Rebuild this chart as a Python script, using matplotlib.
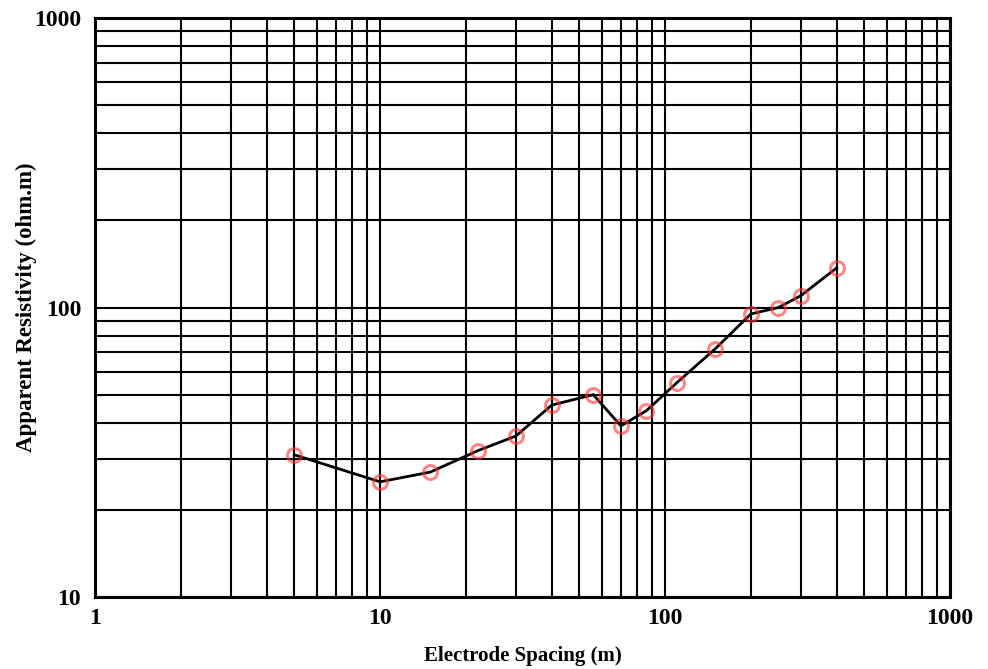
import matplotlib
matplotlib.use("Agg")
import matplotlib.pyplot as plt
from matplotlib.ticker import LogLocator, NullFormatter, FixedLocator, FixedFormatter

# Electrode spacing (m) and apparent resistivity (ohm.m)
spacing = [5, 10, 15, 22, 30, 40, 56, 70, 86, 110, 150, 200, 250, 300, 400]
resistivity = [31, 25, 27, 32, 36, 46, 50, 39, 44, 55, 72, 95, 100, 110, 137]

xticks = [1, 10, 100, 1000]
yticks = [10, 100, 1000]

plt.rcParams['font.family'] = ['Liberation Serif', 'DejaVu Serif']
plt.rcParams['font.weight'] = 'bold'

fig = plt.figure(figsize=(9.88, 6.69), dpi=100)
ax = fig.add_axes([0.0962, 0.1076, 0.8654, 0.8655])

ax.set_xscale('log')
ax.set_yscale('log')
ax.set_xlim(1, 1000)
ax.set_ylim(10, 1000)

ax.xaxis.set_major_locator(FixedLocator(xticks))
ax.xaxis.set_major_formatter(FixedFormatter([str(v) for v in xticks]))
ax.yaxis.set_major_locator(FixedLocator(yticks))
ax.yaxis.set_major_formatter(FixedFormatter([str(v) for v in yticks]))
ax.xaxis.set_minor_locator(LogLocator(base=10, subs=range(2, 10)))
ax.yaxis.set_minor_locator(LogLocator(base=10, subs=range(2, 10)))
ax.xaxis.set_minor_formatter(NullFormatter())
ax.yaxis.set_minor_formatter(NullFormatter())

ax.grid(True, which='both', color='black', linewidth=1.5)
ax.tick_params(which='both', length=0, labelsize=17)
ax.tick_params(axis='x', pad=8)
ax.tick_params(axis='y', pad=10)
for s in ax.spines.values():
    s.set_linewidth(2.2)

ax.plot(spacing, resistivity, color='black', linewidth=2, zorder=3)
ax.plot(spacing, resistivity, linestyle='none', marker='o', markersize=10,
        markerfacecolor='none', markeredgecolor=(1, 0.2, 0.2, 0.6),
        markeredgewidth=2.2, zorder=4)

ax.set_xlabel('Electrode Spacing (m)', fontsize=15, fontweight='bold', labelpad=12)
ax.set_ylabel('Apparent Resistivity (ohm.m)', fontsize=16.5, fontweight='bold')
ax.yaxis.set_label_coords(-0.068, 0.5)

fig.savefig('out.png', dpi=100)
